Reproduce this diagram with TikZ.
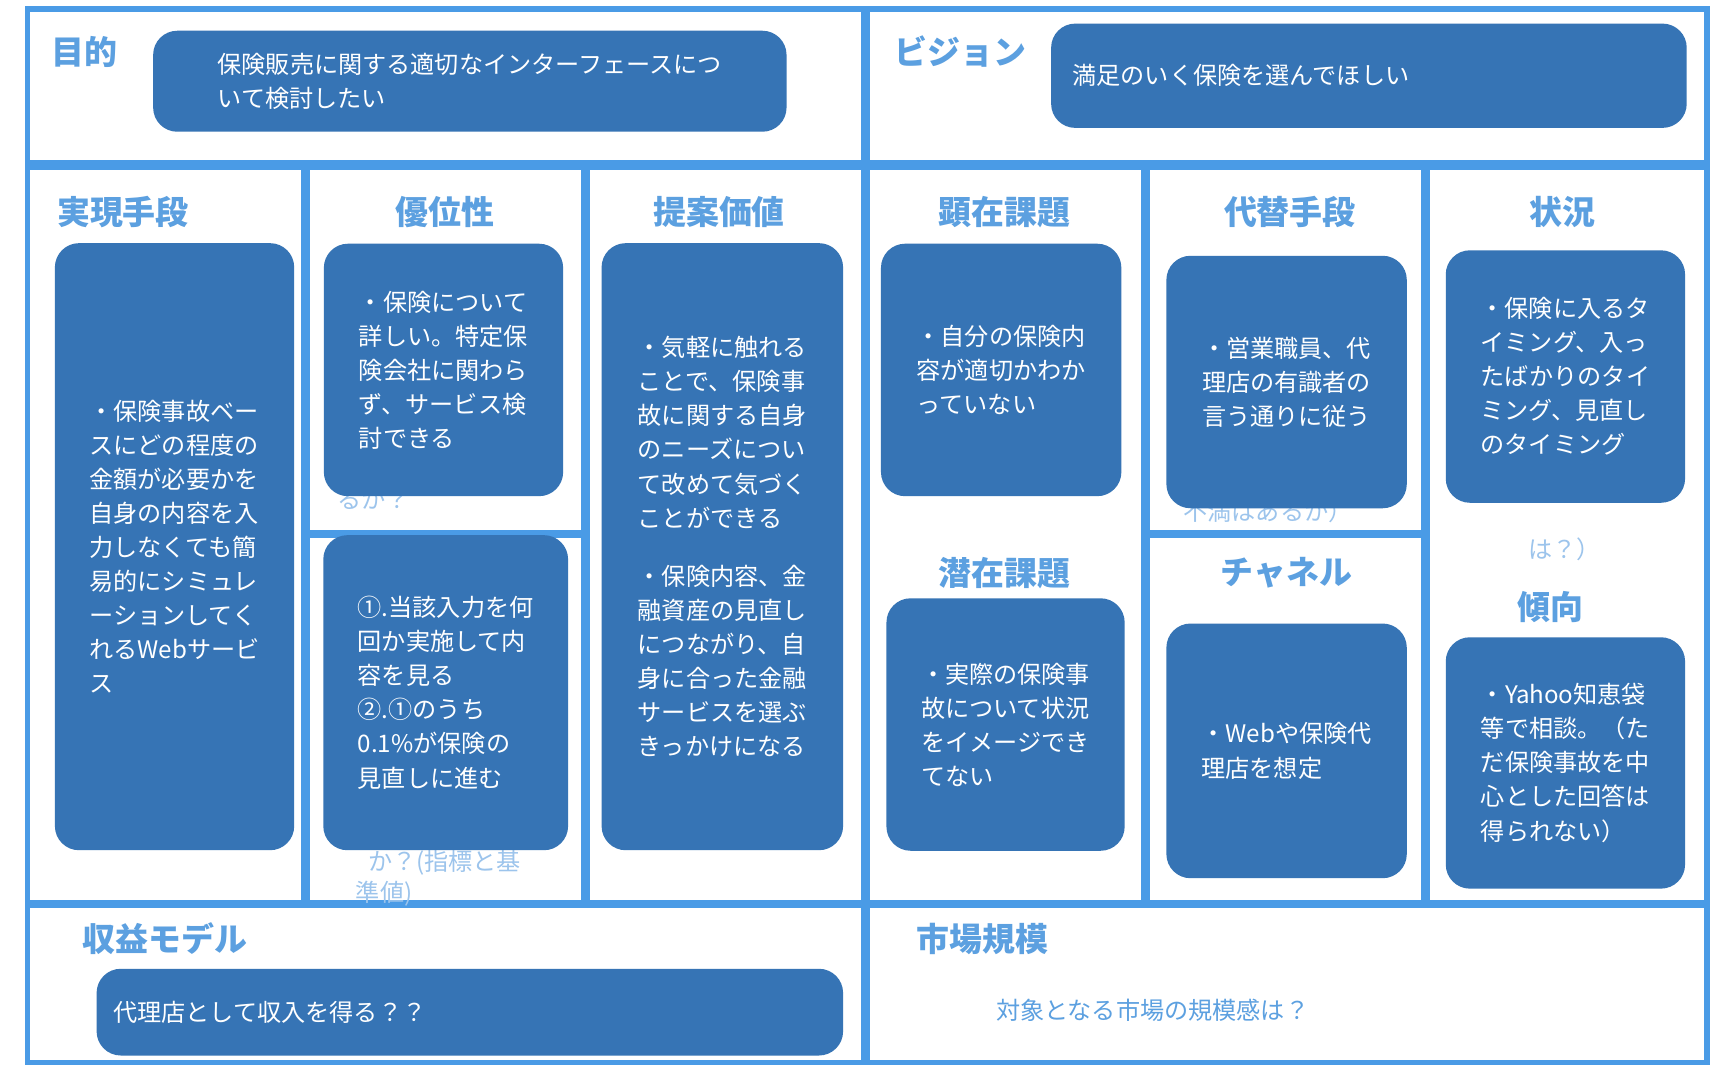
\documentclass[tikz,border=0pt]{standalone}
\usepackage{fontspec}
\setmainfont{Noto Sans CJK JP}
\usetikzlibrary{positioning}
\definecolor{frameblue}{HTML}{4A9BE6}
\definecolor{cardblue}{HTML}{3674B5}
\definecolor{titleblue}{HTML}{5CA0E0}
\definecolor{ghostblue}{HTML}{9CC4EC}
\tikzset{card/.style={
        fill=cardblue,
        rounded corners=22pt,
        text=white,
        align=left,
        font=\fontsize{22}{31}\selectfont } }
\tikzset{ttl/.style={
        text=titleblue,
        font=\fontsize{30}{34}\selectfont\bfseries } }
\tikzset{ghost/.style={
        text=ghostblue,
        align=center,
        font=\fontsize{22}{31}\selectfont } }
\tikzset{frame/.style={ draw=frameblue, line width=5pt } }
\begin{document}
\begin{tikzpicture}[x=1pt,y=-1pt]
\useasboundingbox (0,0) rectangle (1565,982);
\fill[white] (0,0) rectangle (1565,982);

%FRAME
\draw[frame] (25,8) rectangle (787,148);
\draw[frame] (790,8) rectangle (1555,148);
\draw[frame] (25,152) rectangle (277,822);
\draw[frame] (280,152) rectangle (532,485);
\draw[frame] (280,488) rectangle (532,822);
\draw[frame] (535,152) rectangle (787,822);
\draw[frame] (790,152) rectangle (1042,822);
\draw[frame] (1045,152) rectangle (1297,485);
\draw[frame] (1045,488) rectangle (1297,822);
\draw[frame] (1300,152) rectangle (1555,822);
\draw[frame] (25,825) rectangle (787,968);
\draw[frame] (790,825) rectangle (1555,968);

%GHOST TEXT
\node[ghost] (g1) at (340,455) {るか？};
\node[ghost] (g2) at (405,800) {か？(指標と基\\[-2pt]\hspace*{-5em}準値)};
\node[ghost] (g3) at (1155,466) {不満はあるか）};
\node[ghost] (g4) at (1425,500) {は？）};

%TITLES
\node[ttl] (tmokuteki) at (77,47) {目的};
\node[ttl] (tvision) at (875,47) {ビジョン};
\node[ttl] (tshudan) at (112,193) {実現手段};
\node[ttl] (tyui) at (405,193) {優位性};
\node[ttl] (tteian) at (655,193) {提案価値};
\node[ttl] (tkenzai) at (915,193) {顕在課題};
\node[ttl] (tdaitai) at (1175,193) {代替手段};
\node[ttl] (tjokyo) at (1423,193) {状況};
\node[ttl] (tsenzai) at (915,522) {潜在課題};
\node[ttl] (tchannel) at (1172,522) {チャネル};
\node[ttl] (tkeiko) at (1412,553) {傾向};
\node[ttl] (tshueki) at (150,855) {収益モデル};
\node[ttl] (tshijo) at (895,855) {市場規模};

%CARDS
\node[card, minimum width=577pt, minimum height=92pt] (mokuteki) at (428,74)
  {保険販売に関する適切なインターフェースにつ\\いて検討したい};
\node[card, minimum width=579pt, minimum height=95pt, text width=540pt] (vision) at (1247,69)
  {満足のいく保険を選んでほしい};
\node[card, minimum width=218pt, minimum height=553pt] (shudan) at (159,498)
  {・保険事故ベー\\ スにどの程度の\\金額が必要かを\\自身の内容を入\\力しなくても簡\\易的にシミュレ\\ーションしてく\\れるWebサービ\\ス};
\node[card, minimum width=218pt, minimum height=230pt] (yui) at (404,337)
  {・保険について\\詳しい。特定保\\険会社に関わら\\ず、サービス検\\討できる};
\node[card, minimum width=223pt, minimum height=287pt] (shihyo) at (406,631)
  {①.当該入力を何\\回か実施して内\\容を見る\\②.①のうち\\0.1\%が保険の\\見直しに進む};
\node[card, minimum width=220pt, minimum height=553pt] (teian) at (658,498)
  {・気軽に触れる\\ことで、保険事\\故に関する自身\\のニーズについ\\て改めて気づく\\ことができる\\[22pt]・保険内容、金\\融資産の見直し\\につながり、自\\身に合った金融\\サービスを選ぶ\\きっかけになる};
\node[card, minimum width=219pt, minimum height=230pt] (kenzai) at (912,337)
  {・自分の保険内\\容が適切かわか\\っていない};
\node[card, minimum width=217pt, minimum height=230pt] (senzai) at (916,660)
  {・実際の保険事\\故について状況\\をイメージでき\\てない};
\node[card, minimum width=219pt, minimum height=230pt] (daitai) at (1172,348)
  {・営業職員、代\\理店の有識者の\\言う通りに従う};
\node[card, minimum width=219pt, minimum height=232pt] (channel) at (1172,684)
  {・Webや保険代\\理店を想定};
\node[card, minimum width=218pt, minimum height=230pt] (jokyo) at (1426,343)
  {・保険に入るタ\\イミング、入っ\\たばかりのタイ\\ミング、見直し\\のタイミング};
\node[card, minimum width=218pt, minimum height=229pt] (keiko) at (1426,695)
  {・Yahoo知恵袋\\等で相談。（た\\だ保険事故を中\\心とした回答は\\得られない）};
\node[card, minimum width=680pt, minimum height=79pt, text width=650pt] (shueki) at (428,922)
  {代理店として収入を得る？？};

\node[ghost, text=titleblue] (shijo) at (1050,920) {対象となる市場の規模感は？};

\end{tikzpicture}
\end{document}
